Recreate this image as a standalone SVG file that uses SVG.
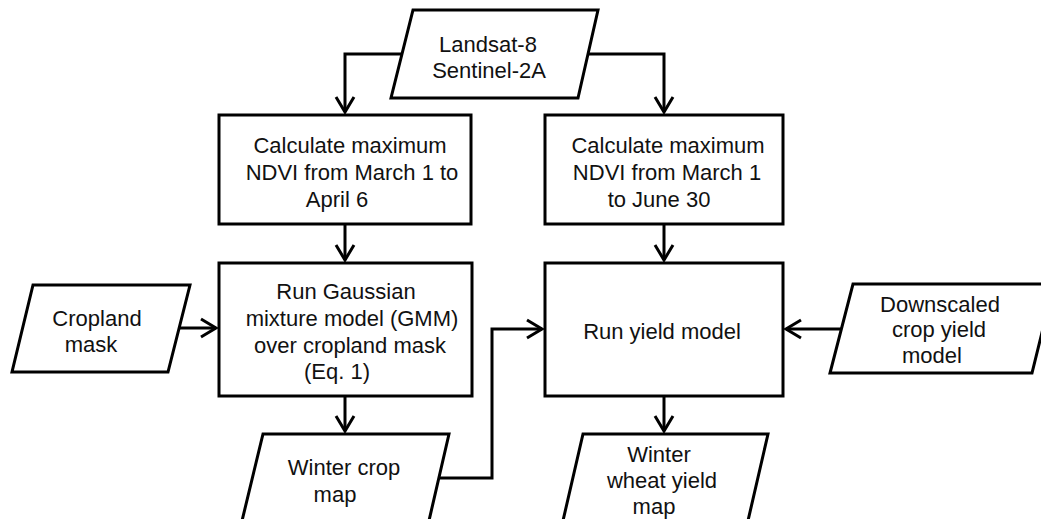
<svg xmlns="http://www.w3.org/2000/svg" width="1041" height="519" viewBox="0 0 1041 519">
  <defs>
    <style>
      .shape { fill: #ffffff; stroke: #000000; stroke-width: 3; stroke-linejoin: miter; }
      .conn { fill: none; stroke: #000000; stroke-width: 3; stroke-linejoin: miter; }
      .label { font-family: "Liberation Sans", Arial, sans-serif; font-size: 22px; fill: #111111; text-anchor: middle; }
    </style>
    <marker id="arrow" markerUnits="userSpaceOnUse" markerWidth="24" markerHeight="24" viewBox="-18 -12 24 24" refX="0" refY="0" orient="auto">
      <path d="M-15,-9 L0,0 L-15,9" fill="none" stroke="#000000" stroke-width="3"/>
    </marker>
  </defs>
  <rect width="1041" height="519" fill="#ffffff"/>

  <!-- connectors -->
  <g id="connectors">
    <path class="conn" d="M402,54 H345 V112" marker-end="url(#arrow)"/>
    <path class="conn" d="M587,54 H664 V112" marker-end="url(#arrow)"/>
    <path class="conn" d="M345,224 V260" marker-end="url(#arrow)"/>
    <path class="conn" d="M664,224 V260" marker-end="url(#arrow)"/>
    <path class="conn" d="M179,328 H216" marker-end="url(#arrow)"/>
    <path class="conn" d="M841,329 H786" marker-end="url(#arrow)"/>
    <path class="conn" d="M345,396 V431" marker-end="url(#arrow)"/>
    <path class="conn" d="M664,396 V431" marker-end="url(#arrow)"/>
    <path class="conn" d="M438,478 H492 V329 H542" marker-end="url(#arrow)"/>
  </g>

  <!-- input data -->
  <g id="landsat">
    <polygon class="shape" points="413,10 598,10 578,98 391,98"/>
    <text class="label" x="488" y="52">Landsat-8</text>
    <text class="label" x="489" y="78">Sentinel-2A</text>
  </g>

  <g id="ndvi-april">
    <rect class="shape" x="219" y="115" width="252" height="109"/>
    <text class="label" x="350" y="153">Calculate maximum</text>
    <text class="label" x="352" y="180">NDVI from March 1 to</text>
    <text class="label" x="337" y="207">April 6</text>
  </g>

  <g id="ndvi-june">
    <rect class="shape" x="545" y="115" width="238" height="109"/>
    <text class="label" x="668" y="153">Calculate maximum</text>
    <text class="label" x="667" y="180">NDVI from March 1</text>
    <text class="label" x="659" y="207">to June 30</text>
  </g>

  <g id="cropland-mask">
    <polygon class="shape" points="33,285 190,285 168,372 12,372"/>
    <text class="label" x="97" y="326">Cropland</text>
    <text class="label" x="91" y="352">mask</text>
  </g>

  <g id="gmm">
    <rect class="shape" x="219" y="263" width="253" height="133"/>
    <text class="label" x="346" y="299">Run Gaussian</text>
    <text class="label" x="352" y="326">mixture model (GMM)</text>
    <text class="label" x="350" y="353">over cropland mask</text>
    <text class="label" x="337" y="379">(Eq. 1)</text>
  </g>

  <g id="yield-model">
    <rect class="shape" x="545" y="263" width="238" height="133"/>
    <text class="label" x="662" y="339">Run yield model</text>
  </g>

  <g id="downscaled">
    <polygon class="shape" points="853,284 1054,284 1032,373 830,373"/>
    <text class="label" x="940" y="312">Downscaled</text>
    <text class="label" x="939" y="337">crop yield</text>
    <text class="label" x="932" y="363">model</text>
  </g>

  <g id="winter-crop-map">
    <polygon class="shape" points="263,434 449,434 428,525 241,525"/>
    <text class="label" x="344" y="475">Winter crop</text>
    <text class="label" x="335" y="502">map</text>
  </g>

  <g id="wheat-yield-map">
    <polygon class="shape" points="583,434 768,434 747,525 562,525"/>
    <text class="label" x="659" y="462">Winter</text>
    <text class="label" x="662" y="488">wheat yield</text>
    <text class="label" x="654" y="514">map</text>
  </g>
</svg>
